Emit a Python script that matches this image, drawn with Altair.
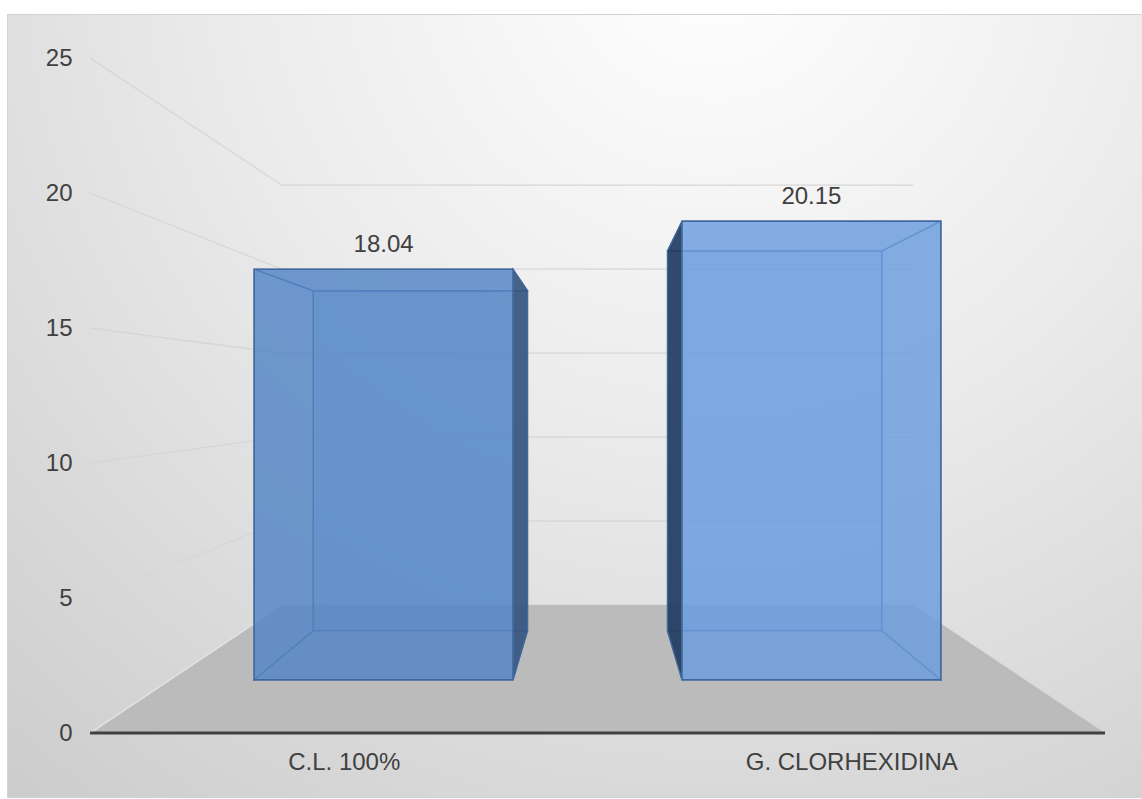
import altair as alt
import pandas as pd

# ---------------- data ----------------
CATEGORIES = ["C.L. 100%", "G. CLORHEXIDINA"]
VALUES = [18.04, 20.15]
Y_TICKS = [0, 5, 10, 15, 20, 25]

# ---------------- 3D look (perspective) constants ----------------
XV, YV = 1.0, 12.54          # vanishing point in data units
S_BACK_WALL = 0.622          # depth scale of the back wall
S_BAR_F, S_BAR_B = 0.843, 0.698  # depth scale of bar front / back faces
HALF_W = 0.3025              # half bar width (band units)
X_DOMAIN = [-0.1616, 2.0729]
Y_DOMAIN = [-2.370, 26.593]
FONT = "Liberation Sans"
TXT = "#404040"
BAR_COLORS = ["#5286c5", "#6a9cde"]
SIDE_COLORS = ["#34547e", "#1f3a5e"]


def px(X, s):
    return XV + (X - XV) * s


def py(v, s):
    return YV + (v - YV) * s


n = len(CATEGORIES)
xs = alt.Scale(domain=X_DOMAIN, nice=False, zero=False)
ys = alt.Scale(domain=Y_DOMAIN, nice=False, zero=False)

x_label_expr = "datum.value < 1 ? '%s' : '%s'" % (CATEGORIES[0], CATEGORIES[1])
AXIS_X = alt.Axis(values=[i + 0.5 for i in range(n)], labelExpr=x_label_expr,
                  grid=False, domain=False, ticks=False, labelPadding=17, labelLimit=600,
                  offset=-64, labelFontSize=24, labelColor=TXT, labelFont=FONT,
                  title=None, zindex=2)
AXIS_Y = alt.Axis(values=Y_TICKS, grid=False, domain=False, ticks=False,
                  labelPadding=0, offset=-64, labelFontSize=24, labelColor=TXT,
                  labelFont=FONT, title=None, zindex=2)


def X(f="x"):
    return alt.X(f, type="quantitative", scale=xs, axis=AXIS_X)


def Y(f="y"):
    return alt.Y(f, type="quantitative", scale=ys, axis=AXIS_Y)


bar_color = alt.Color("bar:N", scale=alt.Scale(domain=CATEGORIES, range=BAR_COLORS), legend=None)
side_color = alt.Color("bar:N", scale=alt.Scale(domain=CATEGORIES, range=SIDE_COLORS), legend=None)

# ---------------- build geometry from the values ----------------
grid_rows, floor_rows = [], []
for v in Y_TICKS:
    pts = [(px(0, 1), py(v, 1)), (px(0, S_BACK_WALL), py(v, S_BACK_WALL)),
           (px(n, S_BACK_WALL), py(v, S_BACK_WALL))]
    for k, (a, b) in enumerate(pts):
        grid_rows.append({"g": v, "o": k, "x": a, "y": b})
for s in (1.0, S_BACK_WALL):
    floor_rows.append({"y": py(0, s), "x": px(0, s), "x2": px(n, s)})
axis_rows = [{"x": px(0, 1), "x2": px(n, 1), "y": py(0, 1)}]

front, back, tb, hidden_side, vis_side, labels = [], [], [], [], [], []
for i, (c, v) in enumerate(zip(CATEGORIES, VALUES)):
    xc = i + 0.5
    xl, xr = xc - HALF_W, xc + HALF_W
    for s, lst in ((S_BAR_F, front), (S_BAR_B, back)):
        lst.append({"bar": c, "x": px(xl, s), "x2": px(xr, s), "y": py(0, s), "y2": py(v, s)})
    for face, val in (("bottom", 0), ("top", v)):
        for s in (S_BAR_F, S_BAR_B):
            tb.append({"bar": c, "face": c + face, "y": py(val, s), "x": px(xl, s), "x2": px(xr, s)})
    for side, xx in (("L", xl), ("R", xr)):
        visible = (side == "R" and xr < XV) or (side == "L" and xl > XV)
        target = vis_side if visible else hidden_side
        for s in (S_BAR_F, S_BAR_B):
            target.append({"bar": c, "face": c + side, "x": px(xx, s), "y": py(0, s), "y2": py(v, s)})
    labels.append({"bar": c, "x": px(xc, S_BAR_F), "y": py(v, S_BAR_F), "val": v})

# ---------------- layers ----------------
bg = alt.Chart(pd.DataFrame({"a": [0]})).mark_rect(
    fill=alt.RadialGradient(
        gradient="radial",
        stops=[alt.GradientStop(color="#ffffff", offset=0),
               alt.GradientStop(color="#ebebeb", offset=0.45),
               alt.GradientStop(color="#cdcdcd", offset=1)],
        x1=0.62, y1=0.1, x2=0.62, y2=0.1, r1=0, r2=0.95),
    strokeWidth=0,
).encode(x=alt.value(0), x2=alt.value("width"), y=alt.value(0), y2=alt.value("height"))

grid = alt.Chart(pd.DataFrame(grid_rows)).mark_line(color="#d6d6d6", strokeWidth=1.3).encode(
    x=X("x"), y=Y("y"), detail="g:N", order="o:Q")

floor = alt.Chart(pd.DataFrame(floor_rows)).mark_area(orient="horizontal", color="#bbbbbb").encode(
    y=Y("y"), x=X("x"), x2="x2")

floor_edge = alt.Chart(pd.DataFrame(grid_rows)).transform_filter("datum.g == 0 && datum.o < 2").mark_line(
    color="#e2e2e2", strokeWidth=1.5).encode(x=X("x"), y=Y("y"), order="o:Q")

axis_line = alt.Chart(pd.DataFrame(axis_rows)).mark_rule(color="#404040", strokeWidth=3).encode(
    x=X("x"), x2="x2", y=Y("y"))

STROKE = "#41699e"
back_l = alt.Chart(pd.DataFrame(back)).mark_rect(fillOpacity=0.3, stroke=STROKE, strokeWidth=1.2).encode(
    x=X("x"), x2="x2", y=Y("y"), y2="y2", color=bar_color)
tb_l = alt.Chart(pd.DataFrame(tb)).mark_area(orient="horizontal", fillOpacity=0.12, stroke=STROKE,
                                              strokeWidth=1.2).encode(
    y=Y("y"), x=X("x"), x2="x2", detail="face:N", color=bar_color)
hid_l = alt.Chart(pd.DataFrame(hidden_side)).mark_area(fillOpacity=0.12, stroke=STROKE, strokeWidth=1.2).encode(
    x=X("x"), y=Y("y"), y2="y2", detail="face:N", color=bar_color)
vis_l = alt.Chart(pd.DataFrame(vis_side)).mark_area(fillOpacity=0.9, stroke=STROKE, strokeWidth=1.2).encode(
    x=X("x"), y=Y("y"), y2="y2", detail="face:N", color=side_color)
front_l = alt.Chart(pd.DataFrame(front)).mark_rect(fillOpacity=0.8, stroke=STROKE, strokeWidth=1.5).encode(
    x=X("x"), x2="x2", y=Y("y"), y2="y2", color=bar_color)

text_l = alt.Chart(pd.DataFrame(labels)).mark_text(
    dy=-24, fontSize=24, font=FONT, color=TXT, baseline="middle", align="center").encode(
    x=X("x"), y=Y("y"), text=alt.Text("val:Q", format=".2f"))

chart = alt.layer(
    bg, grid, floor, floor_edge, axis_line, back_l, tb_l, hid_l, vis_l, front_l, text_l
).resolve_scale(color="independent").properties(
    width=1134, height=782,
    padding={"left": 8, "top": 15, "right": 0, "bottom": 2},
    autosize=alt.AutoSizeParams(type="none"),
).configure_view(stroke="#c4c4c4", strokeWidth=1.5)

chart.save("out.html", embed_options={"renderer": "svg", "actions": False})
